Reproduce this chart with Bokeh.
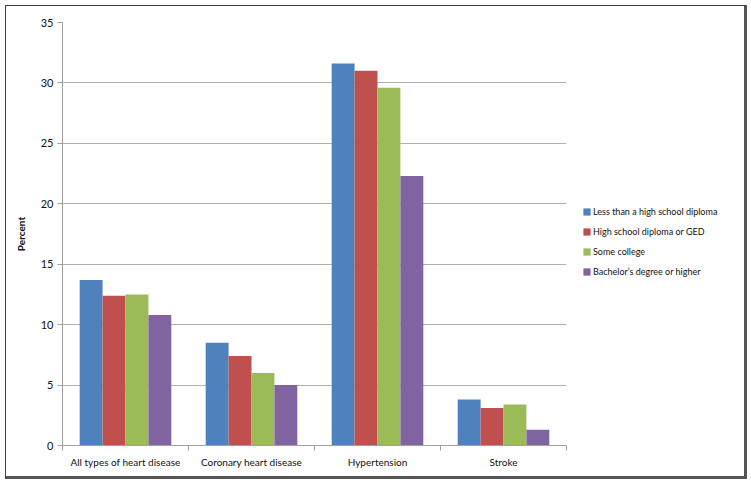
from bokeh.plotting import figure
from bokeh.layouts import row
from bokeh.models import (ColumnDataSource, Range1d, FixedTicker, Legend, LegendItem)
from bokeh.transform import dodge
from bokeh.embed import file_html
from bokeh.resources import INLINE

categories = ["All types of heart disease", "Coronary heart disease", "Hypertension", "Stroke"]
series_names = ["Less than a high school diploma", "High school diploma or GED",
                "Some college", "Bachelor\u2019s degree or higher"]
less_than_hs = [13.7, 8.5, 31.6, 3.8]
hs_or_ged = [12.4, 7.4, 31.0, 3.1]
some_college = [12.5, 6.0, 29.6, 3.4]
bachelors = [10.8, 5.0, 22.3, 1.3]
y_ticks = [0, 5, 10, 15, 20, 25, 30, 35]
colors = ["#4F81BD", "#C0504D", "#9BBB59", "#8064A2"]

series = [less_than_hs, hs_or_ged, some_college, bachelors]
centers = [i + 0.5 for i in range(len(categories))]
data = {"x": centers}
keys = ["s0", "s1", "s2", "s3"]
for k, vals in zip(keys, series):
    data[k] = vals
src = ColumnDataSource(data)

FONT = "Lato"
H = 470

p = figure(width=569, height=H, output_backend="svg", toolbar_location=None,
           x_range=Range1d(0, len(categories)), y_range=Range1d(0, 35),
           min_border_left=56, min_border_right=9, min_border_top=16, min_border_bottom=31)
p.outline_line_color = None
p.background_fill_color = "white"
p.border_fill_color = "white"

bw = 1 / 5.5
for j, k in enumerate(keys):
    off = (j - 1.5) * bw
    p.vbar(x=dodge("x", off, range=p.x_range), top=k, width=bw, bottom=0,
           source=src, fill_color=colors[j], line_color=None)

xa = p.xaxis[0]
xa.ticker = FixedTicker(ticks=centers, minor_ticks=list(range(len(categories) + 1)))
xa.major_label_overrides = {c: lab for c, lab in zip(centers, categories)}
xa.major_tick_line_color = None
xa.major_tick_out = 0
xa.minor_tick_in = 0
xa.minor_tick_out = 5
xa.minor_tick_line_color = "#a0a0a0"
xa.axis_line_color = "#a0a0a0"
xa.major_label_standoff = 5
xa.major_label_text_font = FONT
xa.major_label_text_font_size = "10px"
xa.major_label_text_color = "#111111"

ya = p.yaxis[0]
ya.ticker = FixedTicker(ticks=y_ticks)
ya.minor_tick_line_color = None
ya.major_tick_in = 0
ya.major_tick_out = 5
ya.major_tick_line_color = "#a0a0a0"
ya.axis_line_color = "#a0a0a0"
ya.major_label_standoff = 4
ya.major_label_text_font = FONT
ya.major_label_text_font_size = "11px"
ya.major_label_text_color = "#111111"
ya.axis_label = "Percent"
ya.axis_label_text_font = FONT
ya.axis_label_text_font_style = "bold"
ya.axis_label_text_font_size = "10px"
ya.axis_label_text_color = "#111111"
ya.axis_label_standoff = 11

p.xgrid.grid_line_color = None
p.ygrid.grid_line_color = "#b0b0b0"
p.ygrid.ticker = FixedTicker(ticks=y_ticks)

# legend panel (legend swatches come from hidden copies of the same series)
q = figure(width=169, height=H, output_backend="svg", toolbar_location=None,
           x_range=Range1d(0, len(categories)), y_range=Range1d(0, 35),
           x_axis_location=None, y_axis_location=None,
           min_border_left=0, min_border_right=0, min_border_top=0, min_border_bottom=0)
q.outline_line_color = None
q.xgrid.visible = False
q.ygrid.visible = False
q.border_fill_color = "white"
items = []
for j, (k, n) in enumerate(zip(keys, series_names)):
    r = q.vbar(x="x", top=k, width=bw, bottom=0, source=src,
               fill_color=colors[j], line_color=None, visible=False)
    items.append(LegendItem(label=n, renderers=[r]))
legend = Legend(items=items, location=(7, 168), orientation="vertical",
                glyph_width=9, glyph_height=9, label_height=11, spacing=9,
                label_standoff=2, padding=0, margin=0,
                border_line_color=None, background_fill_alpha=0,
                label_text_font=FONT, label_text_font_size="9px", label_text_color="#111111")
q.add_layout(legend, "center")

layout = row(p, q, spacing=0)
layout.styles = {"margin-left": "5px", "margin-top": "5px",
                 "border-left": "1px solid #3c3c3c", "border-top": "1px solid #3c3c3c",
                 "border-right": "3px solid #555555", "border-bottom": "3px solid #555555"}

open("out.html", "w").write(file_html(layout, INLINE))
